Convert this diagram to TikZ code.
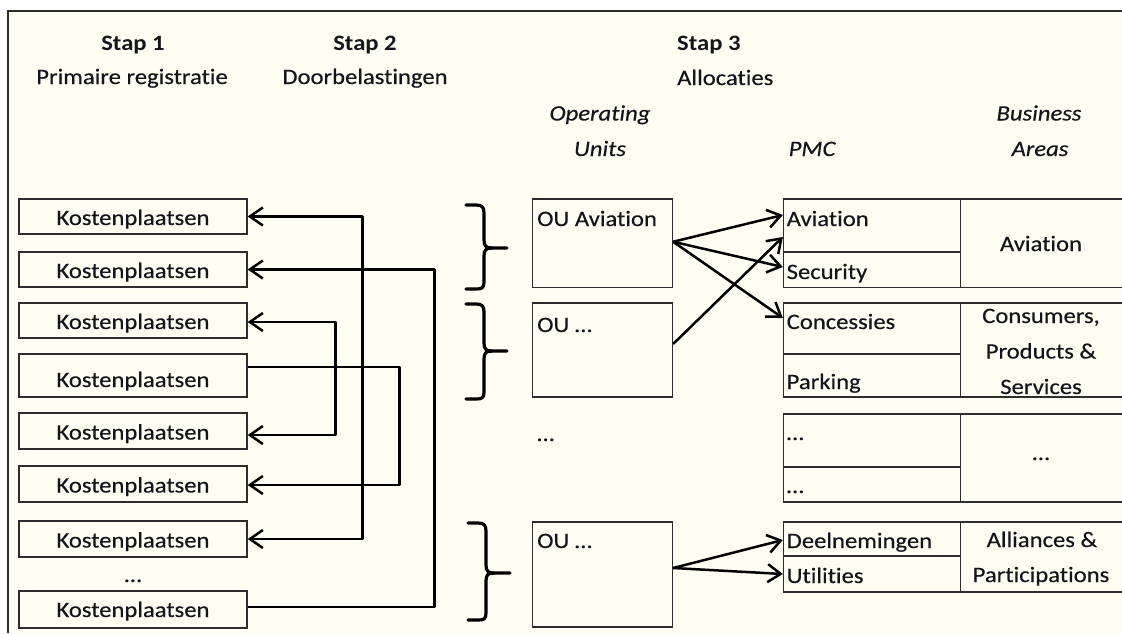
\documentclass[tikz,border=0pt]{standalone}
\usepackage{fontspec}
\setmainfont{Carlito}[FakeStretch=1.12, Ligatures=NoCommon, UprightFeatures={FakeBold=0.35}, ItalicFeatures={FakeBold=0.35}]
\usetikzlibrary{arrows.meta}
\definecolor{bg}{RGB}{255,254,242}
\definecolor{ln}{RGB}{45,45,45}
\definecolor{tx}{RGB}{20,20,28}
\begin{document}
\begin{tikzpicture}[x=1pt,y=-1pt,
  font=\fontsize{22}{26}\selectfont,
  barb/.tip={Straight Barb[length=13pt,width=18pt]},
  kbox/.style={draw=ln, line width=1.3pt, minimum width=228pt, inner sep=0pt, text height=17pt, text depth=0pt, text=tx},
  oubox/.style={draw=ln, line width=1.3pt, minimum width=140pt, inner sep=0pt},
  pcell/.style={draw=ln, line width=1.3pt, minimum width=177pt, inner sep=0pt},
  bcell/.style={draw=ln, line width=1.3pt, minimum width=175pt, inner sep=0pt},
  txt/.style={inner sep=0pt, anchor=base, text=tx},
  txtw/.style={inner sep=0pt, anchor=base west, text=tx},
  conn/.style={line width=2.5pt, draw=black, line join=round},
  bracestyle/.style={line width=3.2pt, draw=black, line cap=round, line join=round}]
\useasboundingbox (0,0) rectangle (1122,633);
\fill[white] (0,0) rectangle (1122,633);
\fill[bg] (8,11) rectangle (1122,633);
\draw[ln, line width=2pt] (8,633) -- (8,11) -- (1122,11);

% headers
\node[txt] (h1) at (133,50) {\bfseries Stap 1};
\node[txt] (h1b) at (132,84) {Primaire registratie};
\node[txt] (h2) at (365,50) {\bfseries Stap 2};
\node[txt] (h2b) at (365,84) {Doorbelastingen};
\node[txtw] (h3) at (677,50) {\bfseries Stap 3};
\node[txtw] (h3b) at (677,85) {Allocaties};
\node[txt] (ouh1) at (600,120.5) {\itshape Operating};
\node[txt] (ouh2) at (600,156) {\itshape Units};
\node[txt] (pmch) at (812,156) {\itshape PMC};
\node[txt] (bah1) at (1039,120.5) {\itshape Business};
\node[txt] (bah2) at (1040,156) {\itshape Areas};

% Kostenplaatsen
\node[kbox, minimum height=35pt] (k1) at (133,216.5) {Kostenplaatsen};
\node[kbox, minimum height=35pt] (k2) at (133,269.5) {Kostenplaatsen};
\node[kbox, minimum height=35pt] (k3) at (133,320.5) {Kostenplaatsen};
\node[kbox, minimum height=43pt, text height=23pt] (k4) at (133,375.5) {Kostenplaatsen};
\node[kbox, minimum height=36pt] (k5) at (133,431) {Kostenplaatsen};
\node[kbox, minimum height=36pt] (k6) at (133,484) {Kostenplaatsen};
\node[kbox, minimum height=36pt] (k7) at (133,539) {Kostenplaatsen};
\node[txt] (kdots) at (133,582) {…};
\node[kbox, minimum height=37pt, text height=15pt] (k8) at (133,609.5) {Kostenplaatsen};

% Doorbelastingen connectors
\draw[conn, barb-barb] (k1.east) -- ++(115,0) |- (k7.east);
\draw[conn, -barb] ([yshift=2.5pt]k8.east) -- ++(187,0) |- (k2.east);
\draw[conn, barb-barb] ([yshift=-1.5pt]k3.east) -- ++(88,0) |- ([yshift=-4pt]k5.east);
\draw[conn, -barb] ([yshift=8.5pt]k4.east) -- ++(152,0) |- ([yshift=-1pt]k6.east);

% braces
\draw[bracestyle] (466,205) -- (476,205) .. controls (482,205) and (484,207) .. (484,213) -- (484,240)
  .. controls (484,246) and (486,248) .. (492,248) -- (507,248);
\draw[bracestyle] (492,248) .. controls (486,248) and (484,250) .. (484,256) -- (484,282)
  .. controls (484,288) and (482,289) .. (476,289) -- (466,289);
\draw[bracestyle] (466,304) -- (476,304) .. controls (482,304) and (484,306) .. (484,312) -- (484,343)
  .. controls (484,349) and (486,351) .. (492,351) -- (507,351);
\draw[bracestyle] (492,351) .. controls (486,351) and (484,353) .. (484,359) -- (484,392)
  .. controls (484,398) and (482,399) .. (476,399) -- (466,399);
\draw[bracestyle] (468,523) -- (478,523) .. controls (484,523) and (486,525) .. (486,531) -- (486,565)
  .. controls (486,571) and (488,573) .. (494,573) -- (510,573);
\draw[bracestyle] (494,573) .. controls (488,573) and (486,575) .. (486,581) -- (486,613)
  .. controls (486,619) and (484,620) .. (478,620) -- (468,620);

% Operating units
\node[oubox, minimum height=88.5pt] (ou1) at (602.5,243.25) {};
\node[oubox, minimum height=94pt] (ou2) at (602.5,350) {};
\node[oubox, minimum height=105pt] (ou3) at (602.5,574.5) {};
\node[txtw] (ou1t) at (537,226) {OU Aviation};
\node[txtw] (ou2t) at (537,332) {OU …};
\node[txtw] (oudots) at (537,441) {…};
\node[txtw] (ou3t) at (537,548) {OU …};

% PMC cells
\node[pcell, minimum height=53pt] (pAv) at (872,225.5) {};
\node[pcell, minimum height=35.5pt] (pSe) at (872,269.75) {};
\node[pcell, minimum height=51pt] (pCo) at (872,328.5) {};
\node[pcell, minimum height=43pt] (pPa) at (872,375.5) {};
\node[pcell, minimum height=53pt] (pD1) at (872,440.5) {};
\node[pcell, minimum height=35pt] (pD2) at (872,484.5) {};
\node[pcell, minimum height=34pt] (pDe) at (872,539) {};
\node[pcell, minimum height=36pt] (pUt) at (872,574) {};
\node[txtw] (pAvt) at (786.5,226) {Aviation};
\node[txtw] (pSet) at (786.5,279) {Security};
\node[txtw] (pCot) at (786.5,329) {Concessies};
\node[txtw] (pPat) at (786.5,389) {Parking};
\node[txtw] (pD1t) at (786.5,440) {…};
\node[txtw] (pD2t) at (786.5,493) {…};
\node[txtw] (pDet) at (786.5,548) {Deelnemingen};
\node[txtw] (pUtt) at (786.5,583) {Utilities};

% Business areas
\node[bcell, minimum height=88.5pt] (bAv) at (1048,243.25) {};
\node[bcell, minimum height=94pt] (bCo) at (1048,350) {};
\node[bcell, minimum height=88pt] (bDo) at (1048,458) {};
\node[bcell, minimum height=70pt] (bAl) at (1048,557) {};
\node[txt] (bAvt) at (1041,251) {Aviation};
\node[txt] (bCot1) at (1041,323) {Consumers,};
\node[txt] (bCot2) at (1041,358.5) {Products \&};
\node[txt] (bCot3) at (1041,394) {Services};
\node[txt] (bDot) at (1041,460) {…};
\node[txt] (bAlt1) at (1042,547) {Alliances \&};
\node[txt] (bAlt2) at (1041,582) {Participations};

% allocation arrows
\draw[conn, -barb] ([yshift=1.5pt]ou1.east) -- ([yshift=10.5pt]pAv.west);
\draw[conn, -barb] ([yshift=1.5pt]ou1.east) -- ([yshift=2.75pt]pSe.west);
\draw[conn, -barb] ([yshift=1.5pt]ou1.east) -- ([yshift=10.5pt]pCo.west);
\draw[conn, -barb] ([yshift=6pt]ou2.east) -- ([yshift=-11.5pt]pAv.west);
\draw[conn, -barb] ([yshift=6.5pt]ou3.east) -- ([yshift=-1pt]pDe.west);
\draw[conn, -barb] ([yshift=6.5pt]ou3.east) -- (pUt.west);
\end{tikzpicture}
\end{document}
